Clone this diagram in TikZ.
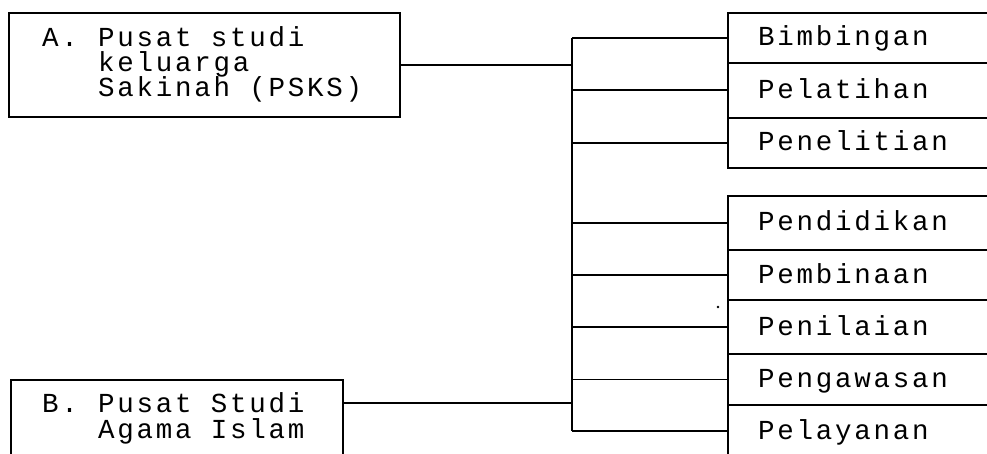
\documentclass[tikz,border=0pt]{standalone}
\usepackage{fontspec}
\newfontfamily\dmfont[LetterSpace=10]{Liberation Mono}
\begin{document}
\begin{tikzpicture}[x=1pt,y=-1pt]
\tikzset{
  ln/.style={line width=1.6pt},
  boxnode/.style={draw, line width=1.6pt, inner sep=0pt, anchor=north west},
  rowbox/.style={boxnode, minimum width=290pt},
  lbl/.style={font=\dmfont\fontsize{27.5pt}{30pt}\selectfont, inner sep=0pt, anchor=base west},
}
\useasboundingbox (0,0) rectangle (987,454);
\clip (0,0) rectangle (987,454);
% left boxes
\node[boxnode, minimum width=391pt, minimum height=104pt] (boxA) at (8,12) {};
\node[boxnode, minimum width=332pt, minimum height=100pt] (boxB) at (10,379) {};
\node[lbl] (a0) at (42,46.5) {A.};
\node[lbl] (a1) at (98,46.5) {Pusat studi};
\node[lbl] (a2) at (98,71.5) {keluarga};
\node[lbl] (a3) at (98,96.5) {Sakinah (PSKS)};
\node[lbl] (b0) at (42,412) {B.};
\node[lbl] (b1) at (98,412) {Pusat Studi};
\node[lbl] (b2) at (98,438) {Agama Islam};
% right rows
\node[rowbox, minimum height=50pt] (r1) at (727,12) {};
\node[rowbox, minimum height=55pt] (r2) at (727,62) {};
\node[rowbox, minimum height=50pt] (r3) at (727,117) {};
\node[rowbox, minimum height=54pt] (r4) at (727,195) {};
\node[rowbox, minimum height=50pt] (r5) at (727,249) {};
\node[rowbox, minimum height=54pt] (r6) at (727,299) {};
\node[rowbox, minimum height=51pt] (r7) at (727,353) {};
\node[rowbox, minimum height=52pt] (r8) at (727,404) {};
\node[lbl] (t1) at (758,46) {Bimbingan};
\node[lbl] (t2) at (758,98.5) {Pelatihan};
\node[lbl] (t3) at (758,151) {Penelitian};
\node[lbl] (t4) at (758,231) {Pendidikan};
\node[lbl] (t5) at (758,283) {Pembinaan};
\node[lbl] (t6) at (758,335) {Penilaian};
\node[lbl] (t7) at (758,387.5) {Pengawasan};
\node[lbl] (t8) at (758,439) {Pelayanan};
% connectors
\coordinate (jx) at (572,0);
\coordinate (jB) at (572,403);
\draw[ln] (boxA.east) -- (boxA.east -| jx);
\draw[ln] (boxB.north east |- jB) -- (jB);
\draw[ln] (jx |- r1.west) -- (jx |- r8.west);
\foreach \r in {r1,r2,r3,r4,r5,r6,r7,r8} \draw[ln] (jx |- \r.west) -- (\r.west);
% speck
\fill (718,307) circle (1.4pt);
\end{tikzpicture}
\end{document}
